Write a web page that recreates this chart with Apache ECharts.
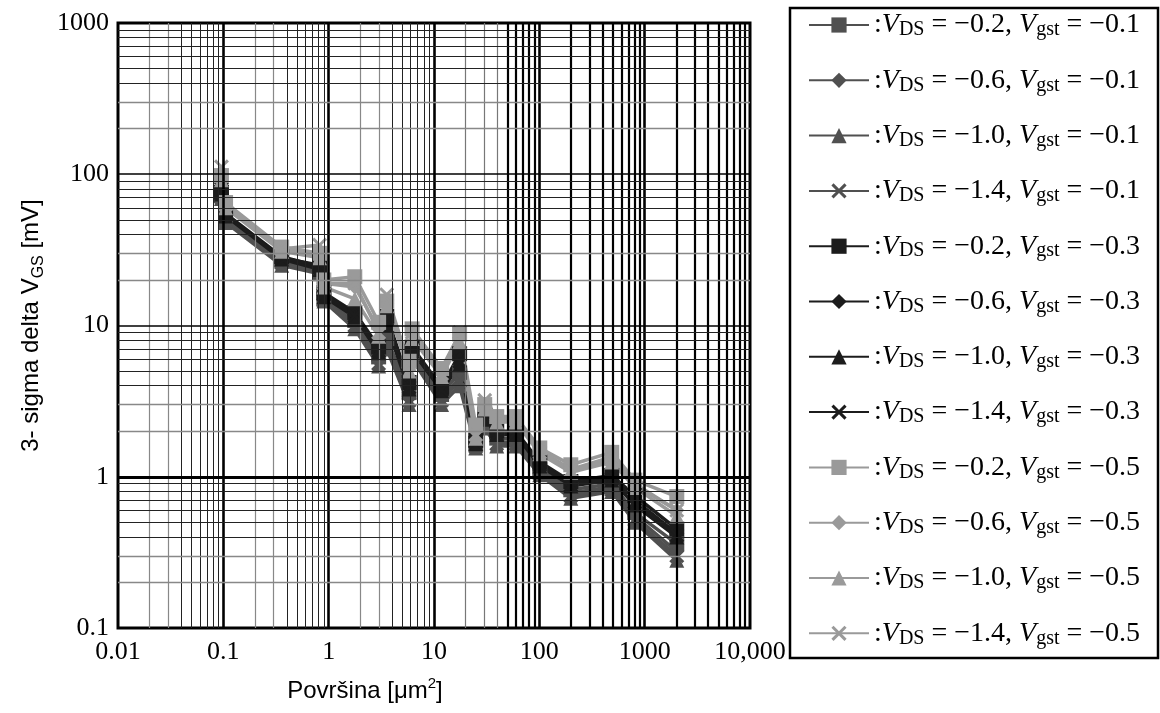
<!DOCTYPE html>
<html><head><meta charset="utf-8">
<script src="https://cdn.jsdelivr.net/npm/echarts@6/dist/echarts.min.js"></script>
<style>html,body{margin:0;padding:0;background:#fff}#c{width:1160px;height:713px}</style>
</head><body><div id="c"></div>
<script>
// ---- data ----
const areas = [0.096, 0.105, 0.358, 0.82, 0.90, 1.77, 2.98, 3.56, 5.8, 6.2, 11.8, 17.5, 24.9, 30.3, 39.4, 59.7, 101, 199, 487, 806, 2018];

const vdsLabels = ['−0.2', '−0.6', '−1.0', '−1.4'];
const vgstLabels = ['−0.1', '−0.3', '−0.5'];
const xTickLabels = ['0.01', '0.1', '1', '10', '100', '1000', '10,000'];
const yTickLabels = ['0.1', '1', '10', '100', '1000'];

// Vgst = -0.1
const g01_vds02 = [72, 50, 27, 23, 15, 10.8, 6.2, 8.2, 3.6, 6.5, 3.5, 4.9, 1.65, 2.3, 1.8, 1.8, 1.12, 0.82, 0.90, 0.58, 0.36];
const g01_vds06 = [70, 49, 26, 22.5, 14.8, 10.2, 5.8, 7.5, 3.3, 6.3, 3.3, 4.5, 1.6, 2.2, 1.7, 1.7, 1.08, 0.78, 0.86, 0.55, 0.32];
const g01_vds10 = [69, 48, 25, 22, 14.5, 9.5, 5.4, 7.0, 3.0, 6.0, 3.0, 4.0, 1.55, 2.1, 1.6, 1.6, 1.03, 0.72, 0.80, 0.50, 0.28];
const g01_vds14 = [71, 49, 26, 22.5, 14.6, 10, 5.6, 7.2, 3.2, 6.2, 3.2, 4.3, 1.58, 2.2, 1.65, 1.65, 1.05, 0.75, 0.82, 0.52, 0.30];
// Vgst = -0.3
const g03_vds02 = [76, 55, 28.5, 24.5, 16.5, 12.2, 7.2, 11.5, 4.2, 7.2, 3.9, 6.5, 1.75, 2.6, 2.0, 2.0, 1.25, 0.93, 1.02, 0.75, 0.45];
const g03_vds06 = [75, 54, 28, 24, 16, 11.8, 7.0, 10.5, 4.0, 7.0, 3.8, 6.0, 1.7, 2.5, 1.95, 1.95, 1.22, 0.90, 0.98, 0.70, 0.42];
const g03_vds10 = [74, 53, 27.5, 23.5, 15.5, 11.4, 6.6, 10, 3.8, 6.8, 3.7, 5.5, 1.65, 2.4, 1.9, 1.9, 1.18, 0.87, 0.95, 0.65, 0.40];
const g03_vds14 = [80, 54, 28, 25, 16, 11.6, 6.8, 11, 3.9, 6.9, 3.75, 5.8, 1.7, 2.5, 1.9, 1.95, 1.2, 0.88, 0.97, 0.68, 0.41];
// Vgst = -0.5
const g05_vds02 = [98, 65, 33, 30, 20, 21, 10.5, 14.5, 5.8, 9.5, 5.2, 8.8, 2.2, 3.0, 2.5, 2.5, 1.55, 1.2, 1.45, 0.95, 0.74];
const g05_vds06 = [95, 62, 32, 29, 19, 18, 9.5, 14, 5.3, 8.8, 4.9, 8.3, 2.0, 2.9, 2.4, 2.4, 1.5, 1.12, 1.35, 0.90, 0.60];
const g05_vds10 = [92, 60, 31, 28, 18, 15, 8.5, 13.5, 5.0, 8.2, 4.6, 7.8, 1.8, 2.8, 2.3, 2.3, 1.42, 1.07, 1.25, 0.85, 0.55];
const g05_vds14 = [112, 63, 32, 34, 19, 19, 9, 16, 5.5, 9, 4.8, 9, 1.9, 3.2, 2.5, 2.4, 1.45, 1.1, 1.3, 0.88, 0.60];

const seriesValues = [
  [g01_vds02, g01_vds06, g01_vds10, g01_vds14],
  [g03_vds02, g03_vds06, g03_vds10, g03_vds14],
  [g05_vds02, g05_vds06, g05_vds10, g05_vds14]
];

// ---- styling ----
const groupColors = ['#505050', '#1c1c1c', '#9a9a9a'];
const xPath = 'path://M0,1.4L1.4,0L5,3.6L8.6,0L10,1.4L6.4,5L10,8.6L8.6,10L5,6.4L1.4,10L0,8.6L3.6,5Z';
const symbols = ['rect', 'diamond', 'triangle', xPath];

const series = [];
const legendNames = [];

// grid lines (minor + major) through markLine on a hidden series
const gridLines = [];
const decadesX = [0.01, 0.1, 1, 10, 100, 1000];
decadesX.forEach(d => {
  for (let m = 2; m <= 9; m++) {
    let style;
    if (d >= 100) style = {color: '#000', width: 2.2};
    else if (d >= 10) style = m >= 5 ? {color: '#000', width: 2.2} : {color: '#777', width: 1.2};
    else style = m <= 3 ? {color: '#888', width: 1.2} : {color: '#222', width: 1};
    gridLines.push({xAxis: d * m, lineStyle: Object.assign({type: 'solid'}, style)});
  }
});
[0.1, 1, 10, 100, 1000].forEach(v => gridLines.push({xAxis: v, lineStyle: {type: 'solid', color: '#000', width: 2.6}}));
const decadesY = [0.1, 1, 10, 100];
decadesY.forEach(d => {
  for (let m = 2; m <= 9; m++) {
    const style = m <= 3 ? {color: '#888', width: 1.3} : {color: '#222', width: 1.1};
    gridLines.push({yAxis: d * m, lineStyle: Object.assign({type: 'solid'}, style)});
  }
});
gridLines.push({yAxis: 10, lineStyle: {type: 'solid', color: '#000', width: 1.6}});
gridLines.push({yAxis: 100, lineStyle: {type: 'solid', color: '#000', width: 1.6}});
gridLines.push({yAxis: 1, lineStyle: {type: 'solid', color: '#000', width: 3}});

series.push({
  name: '__grid', type: 'line', data: [], silent: true, z: 1,
  markLine: {silent: true, symbol: ['none', 'none'], label: {show: false}, animation: false,
    emphasis: {disabled: true}, data: gridLines}
});

vgstLabels.forEach((vg, gi) => {
  vdsLabels.forEach((vd, si) => {
    const name = ':VDS = ' + vd + ', Vgst = ' + vg;
    legendNames.push(name);
    const vals = seriesValues[gi][si];
    series.push({
      name: name, type: 'line', z: 3,
      data: areas.map((a, i) => [a, vals[i]]),
      symbol: symbols[si], symbolSize: 15,
      showAllSymbol: true,
      lineStyle: {color: groupColors[gi], width: 3.5},
      itemStyle: {color: groupColors[gi]},
      emphasis: {disabled: true}
    });
  });
});

const serif = 'Liberation Serif';
const sans = 'Liberation Sans';

const chart = echarts.init(document.getElementById('c'), null, {renderer: 'canvas'});
chart.setOption({
  animation: false,
  backgroundColor: '#fff',
  grid: {left: 118, right: 410, top: 23, bottom: 85, show: true, borderColor: '#000', borderWidth: 3, backgroundColor: 'transparent'},
  xAxis: {
    type: 'log', logBase: 10, min: 0.01, max: 10000, splitNumber: 6,
    axisLine: {show: false}, axisTick: {show: false}, splitLine: {show: false},
    axisLabel: {
      color: '#000', fontFamily: serif, fontSize: 26, margin: 11,
      formatter: v => xTickLabels[Math.round(Math.log10(v)) + 2]
    },
    name: 'Površina [μm{sup|2}]', nameLocation: 'middle', nameGap: 48,
    nameTextStyle: {color: '#000', fontFamily: sans, fontSize: 24, lineHeight: 30, padding: [0, 138, 0, 0],
      rich: {sup: {fontFamily: sans, fontSize: 15, lineHeight: 16, verticalAlign: 'top', color: '#000'}}}
  },
  yAxis: {
    type: 'log', logBase: 10, min: 0.1, max: 1000, splitNumber: 4,
    axisLine: {show: false}, axisTick: {show: false}, splitLine: {show: false},
    axisLabel: {
      color: '#000', fontFamily: serif, fontSize: 26, margin: 9,
      formatter: v => yTickLabels[Math.round(Math.log10(v)) + 1]
    },
    name: '3- sigma delta V{sub|GS} [mV]', nameLocation: 'middle', nameGap: 68,
    nameTextStyle: {color: '#000', fontFamily: sans, fontSize: 24, lineHeight: 30,
      rich: {sub: {fontFamily: sans, fontSize: 16, lineHeight: 20, verticalAlign: 'bottom', color: '#000'}}}
  },
  legend: {
    data: legendNames, orient: 'vertical', left: 808, top: 10, padding: 0,
    itemWidth: 60, itemHeight: 19, itemGap: 25.3,
    selectedMode: false,
    textStyle: {color: '#000', fontFamily: serif, fontSize: 28, lineHeight: 30,
      rich: {
        i: {fontFamily: serif, fontStyle: 'italic', fontSize: 28, lineHeight: 30, color: '#000'},
        s: {fontFamily: serif, fontSize: 20, lineHeight: 12, verticalAlign: 'bottom', color: '#000'},
        n: {fontFamily: serif, fontSize: 28, lineHeight: 30, color: '#000'}
      }},
    formatter: name => name.replace(/V(DS|gst)/g, '{i|V}{s|$1}').replace(/(^|\})([^{}]+)(?=\{|$)/g, (m, a, b) => a + '{n|' + b + '}')
  },
  graphic: [{
    type: 'rect', shape: {x: 790, y: 8, width: 368, height: 650},
    style: {fill: 'none', stroke: '#000', lineWidth: 2.5}, silent: true
  }],
  series: series
});
</script>
</body></html>
